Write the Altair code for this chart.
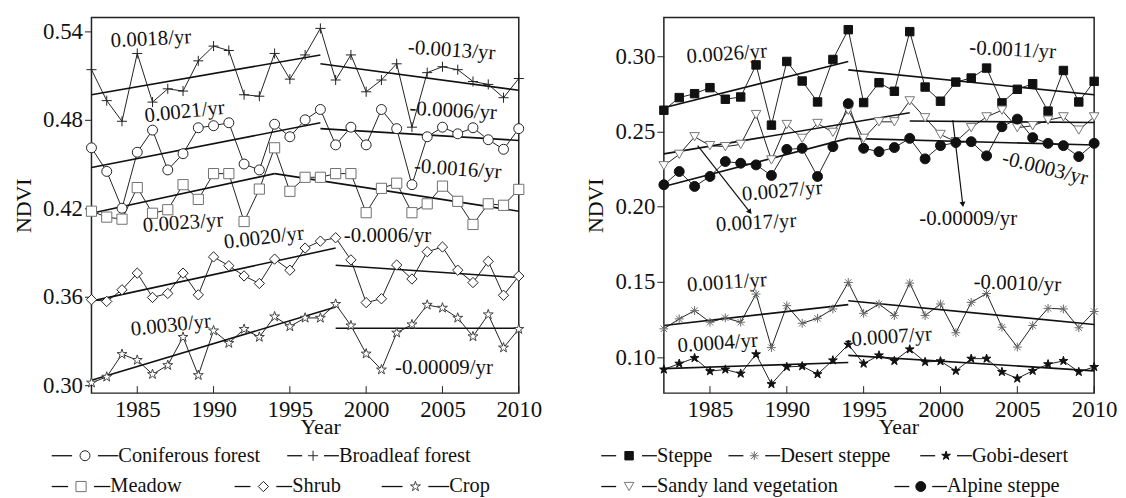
import altair as alt
import pandas as pd

years = list(range(1982, 2011))

# ---------------- left panel series (NDVI) ----------------
left_series = ["Coniferous forest", "Broadleaf forest", "Meadow", "Shrub", "Crop"]
coniferous = [0.461, 0.445, 0.420, 0.458, 0.473, 0.446, 0.457, 0.4746, 0.476, 0.478, 0.450, 0.446, 0.477,
              0.4685, 0.480, 0.487, 0.463, 0.475, 0.463, 0.487, 0.474, 0.436, 0.4685, 0.475, 0.4705, 0.4746,
              0.4665, 0.460, 0.474]
broadleaf = [0.514, 0.493, 0.479, 0.525, 0.492, 0.501, 0.4995, 0.520, 0.530, 0.527, 0.497, 0.496, 0.525,
             0.5076, 0.524, 0.542, 0.507, 0.524, 0.499, 0.507, 0.518, 0.475, 0.512, 0.516, 0.514, 0.506,
             0.504, 0.495, 0.508]
meadow = [0.418, 0.414, 0.4126, 0.434, 0.4166, 0.419, 0.436, 0.426, 0.4435, 0.4435, 0.411, 0.433, 0.461,
          0.4315, 0.441, 0.441, 0.4435, 0.4435, 0.417, 0.4335, 0.437, 0.417, 0.423, 0.435, 0.4247, 0.409,
          0.423, 0.422, 0.4328]
shrub = [0.358, 0.3568, 0.3647, 0.376, 0.3595, 0.3622, 0.376, 0.3613, 0.387, 0.381, 0.3741, 0.369, 0.3855,
         0.378, 0.393, 0.3977, 0.400, 0.385, 0.356, 0.3586, 0.3815, 0.372, 0.3905, 0.3937, 0.378, 0.3696,
         0.384, 0.361, 0.374]
crop = [0.3016, 0.3056, 0.321, 0.317, 0.3074, 0.3135, 0.3326, 0.3067, 0.337, 0.3285, 0.338, 0.3326, 0.3465,
        0.3398, 0.3456, 0.3456, 0.355, 0.3404, 0.3213, 0.3105, 0.3355, 0.3411, 0.3544, 0.3524, 0.3456, 0.333,
        0.3479, 0.3254, 0.338]
left_values = [coniferous, broadleaf, meadow, shrub, crop]

# ---------------- right panel series (NDVI) ----------------
right_series = ["Steppe", "Desert steppe", "Gobi-desert", "Sandy land vegetation", "Alpine steppe"]
steppe = [0.2641, 0.2725, 0.2751, 0.2791, 0.2714, 0.2729, 0.2942, 0.2542, 0.2965, 0.2835, 0.2696, 0.2978,
          0.3176, 0.2692, 0.2824, 0.2767, 0.3163, 0.2795, 0.2701, 0.2828, 0.2855, 0.2921, 0.269, 0.278,
          0.2817, 0.2635, 0.2905, 0.2696, 0.2833]
desert_steppe = [0.1189, 0.1255, 0.131, 0.1233, 0.1262, 0.1233, 0.142, 0.1064, 0.1343, 0.1226, 0.1259,
                 0.1321, 0.1497, 0.1292, 0.1354, 0.1277, 0.1493, 0.1277, 0.1354, 0.1163, 0.1365, 0.1424,
                 0.12, 0.1068, 0.1211, 0.1325, 0.1321, 0.1196, 0.1304]
gobi_desert = [0.0919, 0.0958, 0.0995, 0.0908, 0.0919, 0.0892, 0.102, 0.0822, 0.0936, 0.0941, 0.0888,
               0.098, 0.1084, 0.0958, 0.1013, 0.0976, 0.1053, 0.0969, 0.0974, 0.091, 0.0991, 0.0991,
               0.0903, 0.0859, 0.091, 0.0954, 0.0976, 0.0903, 0.0936]
sandy_land = [0.2272, 0.2348, 0.2465, 0.2406, 0.2399, 0.2414, 0.2612, 0.2311, 0.2546, 0.2454, 0.2553,
              0.2494, 0.2641, 0.2454, 0.2564, 0.2564, 0.2703, 0.2591, 0.248, 0.2432, 0.2525, 0.2597,
              0.2641, 0.2525, 0.2538, 0.2575, 0.2597, 0.2509, 0.2597]
alpine_steppe = [0.2146, 0.2234, 0.2135, 0.2201, 0.2300, 0.2289, 0.2278, 0.2208, 0.2381, 0.2388, 0.2201,
                 0.2399, 0.2685, 0.2388, 0.2366, 0.2393, 0.2454, 0.2318, 0.2406, 0.2426, 0.2432, 0.2338,
                 0.2531, 0.2582, 0.2459, 0.2421, 0.2406, 0.2333, 0.2421]
right_values = [steppe, desert_steppe, gobi_desert, sandy_land, alpine_steppe]

# ---------------- piecewise trend lines ----------------
left_trend_series = ["Coniferous forest", "Coniferous forest", "Broadleaf forest", "Broadleaf forest",
                     "Meadow", "Meadow", "Shrub", "Shrub", "Crop", "Crop"]
left_trend_x0 = [1982, 1997, 1982, 1997, 1982, 1994, 1982, 1998, 1982, 1998]
left_trend_x1 = [1997, 2010, 1997, 2010, 1994, 2010, 1998, 2010, 1998, 2010]
left_trend_y0 = [0.4476, 0.474, 0.497, 0.518, 0.4166, 0.4435, 0.357, 0.3813, 0.3034, 0.3386]
left_trend_y1 = [0.478, 0.466, 0.524, 0.500, 0.4435, 0.418, 0.393, 0.373, 0.353, 0.3386]

right_trend_series = ["Steppe", "Steppe", "Desert steppe", "Desert steppe", "Gobi-desert", "Gobi-desert",
                      "Sandy land vegetation", "Sandy land vegetation", "Alpine steppe", "Alpine steppe"]
right_trend_x0 = [1982, 1994, 1982, 1994, 1982, 1994, 1982, 1998, 1982, 1994]
right_trend_x1 = [1994, 2010, 1994, 2010, 1994, 2010, 1998, 2010, 1994, 2010]
right_trend_y0 = [0.2657, 0.2909, 0.1211, 0.1376, 0.0925, 0.1013, 0.2351, 0.2569, 0.2135, 0.2454]
right_trend_y1 = [0.2965, 0.2744, 0.135, 0.1218, 0.0965, 0.091, 0.2624, 0.2560, 0.2454, 0.241]

# ---------------- slope annotations ----------------
left_ann_text = ["0.0018/yr", "0.0021/yr", "0.0023/yr", "0.0020/yr", "0.0030/yr",
                 "-0.0013/yr", "-0.0006/yr", "-0.0016/yr", "-0.0006/yr", "-0.00009/yr"]
left_ann_year = [1985.9, 1988.1, 1988.0, 1993.3, 1987.2, 2005.6, 2005.7, 2006.0, 2001.4, 2005.1]
left_ann_val = [0.5346, 0.4853, 0.4099, 0.3998, 0.3404, 0.527, 0.486, 0.4463, 0.4011, 0.3115]
left_ann_angle = [357, 354, 356, 353, 354, 4, 3, 4, 0, 0]

right_ann_text = ["0.0026/yr", "0.0027/yr", "0.0017/yr", "-0.0011/yr", "-0.0003/yr", "-0.00009/yr",
                  "0.0011/yr", "0.0004/yr", "-0.0010/yr", "-0.0007/yr"]
right_ann_year = [1986.1, 1989.7, 1988.0, 2004.7, 2006.8, 2001.8, 1986.1, 1985.5, 2005.0, 1996.6]
right_ann_val = [0.3013, 0.2102, 0.1891, 0.304, 0.2254, 0.1917, 0.1495, 0.1092, 0.1488, 0.1132]
right_ann_angle = [356, 355, 357, 3, 14, 0, 356, 356, 2, 356]

# arrows (right panel): start -> end
arrow_x0 = [1984.2, 2000.8]
arrow_y0 = [0.2406, 0.2575]
arrow_x1 = [1987.6, 2001.45]
arrow_y1 = [0.1965, 0.2015]
arrow_angle = [322, 353]

x_tick_years = [1985, 1990, 1995, 2000, 2005, 2010]
left_yticks = [0.30, 0.36, 0.42, 0.48, 0.54]
right_yticks = [0.10, 0.15, 0.20, 0.25, 0.30]

# ---------------- styles ----------------
CROSS = "M-1,0H1M0,-1V1"
ASTER = "M-1,0H1M0,-1V1M-0.72,-0.72L0.72,0.72M-0.72,0.72L0.72,-0.72"
STAR = ("M0,-1L0.2245,-0.309L0.951,-0.309L0.3633,0.118L0.5878,0.809L0,0.382L-0.5878,0.809"
        "L-0.3633,0.118L-0.951,-0.309L-0.2245,-0.309Z")
left_style = dict(shape=["circle", CROSS, "square", "diamond", STAR],
                  fill=["white", "white", "white", "white", "white"],
                  stroke=["#222222", "#222222", "#707070", "#222222", "#444444"],
                  size=[100, 110, 81, 150, 150])
right_style = dict(shape=["square", ASTER, STAR, "triangle-down", "circle"],
                   fill=["#111111", "white", "#111111", "white", "#111111"],
                   stroke=["#111111", "#6a6a6a", "#111111", "#777777", "#111111"],
                   size=[72, 100, 120, 144, 56])

FONT = "Liberation Serif"
H = 378
X_DOM = [1982, 2010]
L_DOM = [0.2946, 0.5494]
R_DOM = [0.0762, 0.3257]

# legend layout in page pixels: (line start, text start, row centre)
left_legend = [(48, 115, 456), (285, 337, 456), (48, 107, 487), (232, 290, 487), (380, 448, 487)]
right_legend = [(602, 658, 456), (730, 782, 456), (923, 975, 456), (602, 658, 487), (897, 950, 487)]


def long_df(names, arrays):
    rows = []
    for n, arr in zip(names, arrays):
        for yr, v in zip(years, arr):
            rows.append({"series": n, "year": yr, "ndvi": v})
    return pd.DataFrame(rows)


def make_panel(names, arrays, tr, ann, style, width, plot_left, ydom, yticks, title_x, arrows=None,
               legend=None):
    df = long_df(names, arrays)
    trend_df = pd.DataFrame({"series": tr[0], "x0": tr[1], "x1": tr[2], "y0": tr[3], "y1": tr[4]})
    ann_df = pd.DataFrame({"label": ann[0], "ax": ann[1], "ay": ann[2], "angle": ann[3]})

    def px_to_year(px):
        return X_DOM[0] + (px - plot_left) * (X_DOM[1] - X_DOM[0]) / width

    def py_to_val(py):
        return ydom[1] - (py - 15) * (ydom[1] - ydom[0]) / H

    leg_rows = []
    for n, (ls, ts, ry) in zip(names, legend):
        L = ts - ls
        d = max(15, (L - 26) / 2)
        leg_rows.append({"series": n,
                         "a0": px_to_year(ls), "a1": px_to_year(ls + d),
                         "b0": px_to_year(ts - d), "b1": px_to_year(ts),
                         "pm": px_to_year(ls + L / 2), "tx": px_to_year(ts),
                         "ly": py_to_val(ry)})
    leg_df = pd.DataFrame(leg_rows)

    sh = alt.Shape("series:N", scale=alt.Scale(domain=names, range=style["shape"]), legend=None)
    fi = alt.Fill("series:N", scale=alt.Scale(domain=names, range=style["fill"]), legend=None)
    st = alt.Stroke("series:N", scale=alt.Scale(domain=names, range=style["stroke"]), legend=None)
    sz = alt.Size("series:N", scale=alt.Scale(domain=names, range=style["size"]), legend=None)

    x = alt.X("year:Q", scale=alt.Scale(domain=X_DOM, nice=False, zero=False),
              axis=alt.Axis(values=x_tick_years, format="d", ticks=False, labelPadding=6,
                            title="Year", titlePadding=-5, titleX=title_x, labelFlush=False))
    y = alt.Y("ndvi:Q", scale=alt.Scale(domain=ydom, nice=False, zero=False),
              axis=alt.Axis(values=yticks, format=".2f", tickSize=7, labelPadding=2,
                            title="NDVI", titlePadding=7, labelFlush=False))

    base = alt.Chart(df)
    lines = base.mark_line(color="#222222", strokeWidth=1).encode(x=x, y=y, detail="series:N")
    points = base.mark_point(filled=True, opacity=1, strokeWidth=1).encode(
        x=x, y=y, shape=sh, fill=fi, stroke=st, size=sz)
    trends = alt.Chart(trend_df).mark_rule(color="#111111", strokeWidth=1.6).encode(
        x="x0:Q", x2="x1:Q", y="y0:Q", y2="y1:Q")
    ticks = alt.Chart(pd.DataFrame({"year": x_tick_years})).mark_rule(
        color="#222222", strokeWidth=1).encode(x="year:Q", y=alt.value(H), y2=alt.value(H - 7))
    texts = alt.Chart(ann_df).mark_text(font=FONT, fontSize=21, color="#111111",
                                        align="center", baseline="middle").encode(
        x="ax:Q", y="ay:Q", text="label:N", angle=alt.Angle("angle:Q", scale=None))

    leg = alt.Chart(leg_df)
    leg_r1 = leg.mark_rule(color="#111111", strokeWidth=1.3).encode(x="a0:Q", x2="a1:Q", y="ly:Q")
    leg_r2 = leg.mark_rule(color="#111111", strokeWidth=1.3).encode(x="b0:Q", x2="b1:Q", y="ly:Q")
    leg_pt = leg.mark_point(filled=True, opacity=1, strokeWidth=1).encode(
        x="pm:Q", y="ly:Q", shape=sh, fill=fi, stroke=st, size=sz)
    leg_tx = leg.mark_text(font=FONT, fontSize=20.5, color="#111111", align="left",
                           baseline="middle").encode(x="tx:Q", y="ly:Q", text="series:N")

    layers = [lines, trends, points, ticks, texts]
    if arrows is not None:
        adf = pd.DataFrame({"x0": arrows[0], "y0": arrows[1], "x1": arrows[2], "y1": arrows[3],
                            "ang": arrows[4]})
        layers.append(alt.Chart(adf).mark_rule(color="#111111", strokeWidth=1.2).encode(
            x="x0:Q", y="y0:Q", x2="x1:Q", y2="y1:Q"))
        layers.append(alt.Chart(adf).mark_point(shape="triangle-down", filled=True, opacity=1,
                                                color="#111111", size=36).encode(
            x="x1:Q", y="y1:Q", angle=alt.Angle("ang:Q", scale=None)))
    layers += [leg_r1, leg_r2, leg_pt, leg_tx]
    return alt.layer(*layers).properties(width=width, height=H)


left = make_panel(left_series, left_values,
                  (left_trend_series, left_trend_x0, left_trend_x1, left_trend_y0, left_trend_y1),
                  (left_ann_text, left_ann_year, left_ann_val, left_ann_angle),
                  left_style, 430, 88, L_DOM, left_yticks, 230, legend=left_legend)
right = make_panel(right_series, right_values,
                   (right_trend_series, right_trend_x0, right_trend_x1, right_trend_y0, right_trend_y1),
                   (right_ann_text, right_ann_year, right_ann_val, right_ann_angle),
                   right_style, 433, 665, R_DOM, right_yticks, 236,
                   arrows=(arrow_x0, arrow_y0, arrow_x1, arrow_y1, arrow_angle), legend=right_legend)

chart = alt.hconcat(left, right, spacing=42).resolve_scale(
    shape="independent", fill="independent", stroke="independent", size="independent"
).properties(
    padding={"left": 4, "top": 7, "right": 0, "bottom": 0}
).configure(
    font=FONT
).configure_view(
    stroke="#222222", strokeWidth=1.5
).configure_axis(
    labelFont=FONT, titleFont=FONT, labelFontSize=23, titleFontSize=22, titleFontWeight="normal",
    labelColor="#111111", titleColor="#111111", grid=False, domain=False, tickColor="#222222",
    tickWidth=1
)

chart.save("out.html", embed_options={"renderer": "svg", "actions": False})
